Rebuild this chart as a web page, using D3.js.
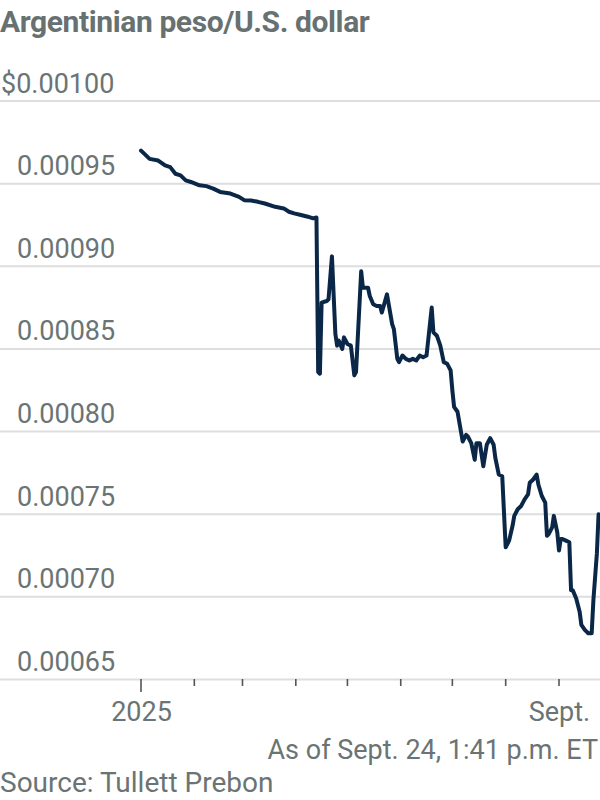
<!DOCTYPE html>
<html>
<head>
<meta charset="utf-8">
<script src="https://cdn.jsdelivr.net/npm/d3@7"></script>
<style>
  html, body { margin: 0; padding: 0; background: #fff; }
  svg { display: block; }
  text { font-family: Roboto, "Noto Sans", sans-serif; }
</style>
</head>
<body>
<svg id="chart" width="600" height="800"></svg>
<script>
const title = "Argentinian peso/U.S. dollar";
const note = "As of Sept. 24, 1:41 p.m. ET";
const source = "Source: Tullett Prebon";

const dates = [
  "2025-01-01","2025-01-03","2025-01-06","2025-01-11","2025-01-15","2025-01-18","2025-01-21","2025-01-24","2025-01-27","2025-01-30",
  "2025-02-04","2025-02-08","2025-02-12","2025-02-16","2025-02-19","2025-02-22","2025-02-27",
  "2025-03-02","2025-03-06","2025-03-10","2025-03-14","2025-03-20","2025-03-25","2025-03-28","2025-03-31",
  "2025-04-04","2025-04-08","2025-04-11","2025-04-13","2025-04-14","2025-04-15","2025-04-16","2025-04-19","2025-04-20","2025-04-22",
  "2025-04-24","2025-04-25","2025-04-26","2025-04-28","2025-04-29",
  "2025-05-01","2025-05-03","2025-05-05","2025-05-06","2025-05-09","2025-05-10","2025-05-13","2025-05-14","2025-05-16","2025-05-18",
  "2025-05-20","2025-05-21","2025-05-24","2025-05-27","2025-05-28","2025-05-30","2025-05-31",
  "2025-06-02","2025-06-04","2025-06-06","2025-06-08","2025-06-10","2025-06-12","2025-06-14","2025-06-16","2025-06-19","2025-06-20",
  "2025-06-22","2025-06-24","2025-06-26","2025-06-28","2025-06-30",
  "2025-07-01","2025-07-02","2025-07-04","2025-07-05","2025-07-07","2025-07-09","2025-07-10","2025-07-12","2025-07-14","2025-07-15",
  "2025-07-17","2025-07-19","2025-07-21","2025-07-23","2025-07-25","2025-07-26","2025-07-28","2025-07-30",
  "2025-08-01","2025-08-03","2025-08-05","2025-08-06","2025-08-08","2025-08-10","2025-08-12","2025-08-14","2025-08-15","2025-08-17",
  "2025-08-19","2025-08-20","2025-08-22","2025-08-24","2025-08-25","2025-08-26","2025-08-28","2025-08-29","2025-08-31",
  "2025-09-01","2025-09-02","2025-09-03","2025-09-05","2025-09-07","2025-09-08","2025-09-09","2025-09-11","2025-09-13","2025-09-14",
  "2025-09-16","2025-09-18","2025-09-20","2025-09-21","2025-09-23","2025-09-24"
];

const values = [
  0.000970,0.000968,0.000965,0.000964,0.000961,0.000960,0.000956,0.000955,0.000952,0.000951,
  0.000949,0.0009485,0.000947,0.000945,0.0009445,0.000944,0.000942,
  0.000940,0.0009398,0.000939,0.000938,0.000936,0.000935,0.000933,0.000932,
  0.000931,0.000930,0.000929,0.0009295,0.000836,0.000835,0.000878,0.000879,0.000880,0.000906,
  0.000859,0.000852,0.000855,0.000850,0.000857,
  0.000853,0.000852,0.000834,0.000836,0.000897,0.000887,0.000887,0.000882,0.000877,0.000876,
  0.000876,0.000872,0.000883,0.000865,0.000862,0.000844,0.000842,
  0.000846,0.000844,0.000843,0.000844,0.000843,0.000846,0.000845,0.000846,0.000875,0.000860,
  0.000858,0.000852,0.000842,0.000841,0.000837,
  0.000825,0.000815,0.000812,0.000806,0.000794,0.000798,0.000797,0.000793,0.000783,0.000793,
  0.000793,0.000779,0.000792,0.000796,0.000792,0.000784,0.000774,0.000773,
  0.000730,0.000734,0.000743,0.000749,0.000753,0.000755,0.000759,0.000762,0.000769,0.000771,
  0.000774,0.000768,0.000761,0.000757,0.000737,0.000738,0.000742,0.000749,0.000739,
  0.000728,0.000735,0.000735,0.000734,0.000733,0.000704,0.000704,0.000699,0.000691,0.000683,
  0.000680,0.000678,0.000678,0.000698,0.000726,0.000750
];

const yTicks = [0.00065, 0.00070, 0.00075, 0.00080, 0.00085, 0.00090, 0.00095, 0.00100];
const xTickMonths = ["2025-01-01","2025-02-01","2025-03-01","2025-04-01","2025-05-01","2025-06-01","2025-07-01","2025-08-01","2025-09-01"];
const xTickLabels = ["2025","","","","","","","","Sept."];

const parse = d3.timeParse("%Y-%m-%d");
const data = dates.map((d, i) => ({ date: parse(d), value: values[i] }));
const tickDates = xTickMonths.map(parse);

const svg = d3.select("#chart");
const textColor = "#6b7474";
const gridColor = "#dedede";

const x = d3.scaleTime()
  .domain([parse("2025-01-01"), parse("2025-09-01")])
  .range([141, 559]);

const y = d3.scaleLinear()
  .domain([0.00065, 0.00100])
  .range([679.5, 101]);

// Title
svg.append("text")
  .attr("x", 0).attr("y", 32)
  .attr("font-size", 30).attr("font-weight", 700)
  .attr("letter-spacing", -0.4)
  .attr("fill", "#687171")
  .text(title);

// Gridlines
svg.append("g").selectAll("line")
  .data(yTicks.slice(1))
  .join("line")
  .attr("x1", 0).attr("x2", 600)
  .attr("y1", d => y(d)).attr("y2", d => y(d))
  .attr("stroke", gridColor).attr("stroke-width", 2);

// Y labels
const fmt = d3.format(".5f");
svg.append("g").selectAll("text")
  .data(yTicks)
  .join("text")
  .attr("x", (d, i) => i === yTicks.length - 1 ? 1 : 17)
  .attr("y", d => y(d) - 8.5)
  .attr("font-size", 27)
  .attr("fill", textColor)
  .text((d, i) => (i === yTicks.length - 1 ? "$" : "") + fmt(d));

// X axis
const xAxis = d3.axisBottom(x)
  .tickValues(tickDates)
  .tickSize(0)
  .tickFormat((d, i) => xTickLabels[i]);

const gx = svg.append("g").attr("transform", "translate(0,679.5)").call(xAxis);
gx.select(".domain").remove();
gx.selectAll("text")
  .attr("font-size", 27)
  .attr("fill", textColor)
  .attr("font-family", "Roboto, 'Noto Sans', sans-serif")
  .attr("dy", 0)
  .attr("y", 41);

svg.append("line")
  .attr("x1", 0).attr("x2", 600)
  .attr("y1", 679.5).attr("y2", 679.5)
  .attr("stroke", gridColor).attr("stroke-width", 2);

svg.append("g").selectAll("line")
  .data(tickDates)
  .join("line")
  .attr("x1", d => x(d)).attr("x2", d => x(d))
  .attr("y1", 679).attr("y2", (d, i) => i === 0 ? 692 : 686)
  .attr("stroke", "#555").attr("stroke-width", 1.6);

// Line
const line = d3.line()
  .x(d => x(d.date))
  .y(d => y(d.value));

svg.append("path")
  .datum(data)
  .attr("d", line)
  .attr("fill", "none")
  .attr("stroke", "#0b2748")
  .attr("stroke-width", 4)
  .attr("stroke-linejoin", "round")
  .attr("stroke-linecap", "round");

// Note and source
svg.append("text")
  .attr("x", 598).attr("y", 759)
  .attr("text-anchor", "end")
  .attr("font-size", 27)
  .attr("fill", textColor)
  .text(note);

svg.append("text")
  .attr("x", 0).attr("y", 792)
  .attr("font-size", 28)
  .attr("fill", textColor)
  .text(source);
</script>
</body>
</html>
